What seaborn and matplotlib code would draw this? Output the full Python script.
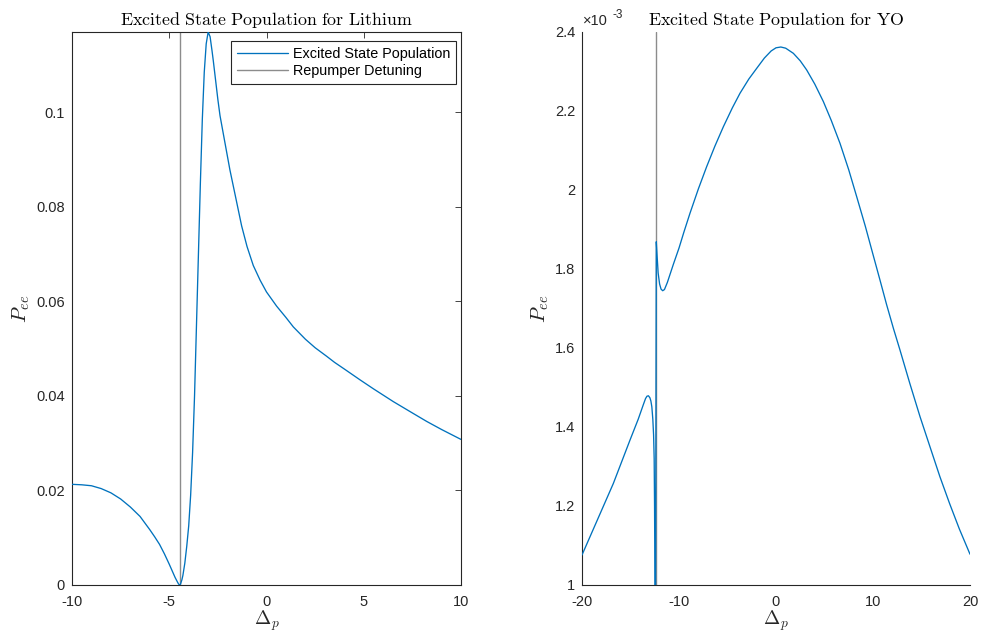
import numpy as np
import pandas as pd
import matplotlib
matplotlib.use("Agg")
import matplotlib.pyplot as plt
from matplotlib.ticker import FuncFormatter, FixedLocator
import seaborn as sns

# ---------------- data ----------------
# Lithium panel
li_detuning = [-10, -9.5, -9, -8.5, -8, -7.5, -7, -6.5, -6, -5.75, -5.5, -5.25, -5,
               -4.85, -4.7, -4.6, -4.52, -4.47, -4.42, -4.35, -4.3, -4.2, -4.1, -4.0,
               -3.9, -3.8, -3.7, -3.6, -3.5, -3.4, -3.3, -3.2, -3.1, -3.0, -2.9, -2.8,
               -2.735, -2.6, -2.5, -2.39, -2.2, -2.0, -1.88, -1.6, -1.28, -1.0, -0.68,
               -0.33, 0.0, 0.52, 1.0, 1.38, 2.0, 2.5, 3.09, 3.5, 4.0, 4.81, 5.5, 6.52,
               7.5, 8.24, 9.0, 10]
li_population = [0.0213, 0.0212, 0.0210, 0.0204, 0.0195, 0.0182, 0.0165, 0.0145,
                 0.0117, 0.0102, 0.0086, 0.0066, 0.0044, 0.0030, 0.0016, 0.0008,
                 0.0002, 0.0000, 0.0002, 0.0011, 0.0020, 0.0046, 0.0082, 0.0125,
                 0.0190, 0.0280, 0.0400, 0.0550, 0.0700, 0.0850, 0.0985, 0.1085,
                 0.1145, 0.1170, 0.1160, 0.1130, 0.1109, 0.1062, 0.1027, 0.0993,
                 0.0950, 0.0905, 0.0878, 0.0823, 0.0760, 0.0716, 0.0676, 0.0645,
                 0.0620, 0.0590, 0.0566, 0.0546, 0.0520, 0.0502, 0.0484, 0.0471,
                 0.0457, 0.0434, 0.0415, 0.0388, 0.0364, 0.0346, 0.0329, 0.0308]
li_repumper = -4.45

# YO panel
yo_detuning = [-20, -18.5, -16.77, -15.05, -14.2, -13.7, -13.45, -13.3, -13.15, -13.0,
               -12.9, -12.8, -12.7, -12.62, -12.56, -12.52, -12.48, -12.45, -12.34,
               -12.25, -12.15, -12.0, -11.85, -11.68, -11.5, -11.2, -10.58, -10.0,
               -9.5, -8.87, -8.0, -7.15, -6.3, -5.43, -4.5, -3.71, -2.8, -1.99, -1.2,
               -0.5, 0.0, 0.5, 1.0, 1.79, 2.5, 3.16, 4.0, 4.88, 5.7, 6.6, 7.5, 8.32,
               9.2, 10.03, 10.72, 11.4, 12.1, 12.78, 13.8, 14.85, 15.9, 16.9, 17.9,
               18.9, 20]
yo_population = [1.076e-3, 1.160e-3, 1.257e-3, 1.367e-3, 1.420e-3, 1.455e-3, 1.472e-3,
                 1.478e-3, 1.479e-3, 1.474e-3, 1.466e-3, 1.451e-3, 1.420e-3, 1.380e-3,
                 1.320e-3, 1.200e-3, 1.000e-3, 0.600e-3, 1.869e-3, 1.830e-3, 1.790e-3,
                 1.762e-3, 1.749e-3, 1.745e-3, 1.748e-3, 1.766e-3, 1.812e-3, 1.853e-3,
                 1.893e-3, 1.941e-3, 2.003e-3, 2.059e-3, 2.111e-3, 2.160e-3, 2.208e-3,
                 2.245e-3, 2.281e-3, 2.308e-3, 2.334e-3, 2.352e-3, 2.360e-3, 2.362e-3,
                 2.359e-3, 2.346e-3, 2.327e-3, 2.304e-3, 2.268e-3, 2.224e-3, 2.176e-3,
                 2.118e-3, 2.051e-3, 1.983e-3, 1.909e-3, 1.834e-3, 1.772e-3, 1.710e-3,
                 1.650e-3, 1.595e-3, 1.510e-3, 1.426e-3, 1.348e-3, 1.274e-3, 1.206e-3,
                 1.142e-3, 1.078e-3]
yo_repumper = -12.4

li_xticks = [-10, -5, 0, 5, 10]
li_yticks = [0, 0.02, 0.04, 0.06, 0.08, 0.1]
yo_xticks = [-20, -10, 0, 10, 20]
yo_yticks = [1.0e-3, 1.2e-3, 1.4e-3, 1.6e-3, 1.8e-3, 2.0e-3, 2.2e-3, 2.4e-3]

titles = ["Excited State Population for Lithium", "Excited State Population for YO"]
legend_labels = ["Excited State Population", "Repumper Detuning"]

# ---------------- style ----------------
sns.set_style("white")
plt.rcParams["font.family"] = ["Liberation Sans", "DejaVu Sans"]
plt.rcParams["mathtext.fontset"] = "cm"
plt.rcParams["axes.unicode_minus"] = False

BLUE = "#0072BD"
GRAY = "#8c8c8c"
AXC = "#262626"

fig = plt.figure(figsize=(9.82, 6.35), dpi=100)
ax1 = fig.add_axes([72 / 982, 50 / 635, 389 / 982, 553 / 635])
ax2 = fig.add_axes([582 / 982, 50 / 635, 388 / 982, 553 / 635])

li_df = pd.DataFrame({"detuning": li_detuning, "population": li_population})
yo_df = pd.DataFrame({"detuning": yo_detuning, "population": yo_population})

sns.lineplot(data=li_df, x="detuning", y="population", ax=ax1, color=BLUE,
             linewidth=0.95, sort=False, label=legend_labels[0], zorder=3)
ax1.axvline(li_repumper, color=GRAY, linewidth=1.0, label=legend_labels[1], zorder=2)

sns.lineplot(data=yo_df, x="detuning", y="population", ax=ax2, color=BLUE,
             linewidth=0.95, sort=False, legend=False, zorder=3)
ax2.axvline(yo_repumper, color=GRAY, linewidth=1.0, zorder=2)

def style_axes(ax, box):
    ax.tick_params(direction="in", length=4, width=0.6, colors=AXC,
                   labelcolor=AXC, labelsize=10.5, top=box, right=box)
    ax.tick_params(axis="x", pad=7)
    ax.tick_params(axis="y", pad=5)
    for s in ["left", "bottom"]:
        ax.spines[s].set_color(AXC)
        ax.spines[s].set_linewidth(0.8)
    for s in ["top", "right"]:
        ax.spines[s].set_visible(box)
        ax.spines[s].set_color(AXC)
        ax.spines[s].set_linewidth(0.8)
    ax.set_xlabel(r"$\Delta_p$", fontsize=14, color=AXC, labelpad=0)
    ax.set_ylabel(r"$P_{ee}$", fontsize=15, color=AXC, labelpad=3)

ax1.set_xlim(-10, 10)
ax1.set_ylim(0, max(li_population))
ax1.xaxis.set_major_locator(FixedLocator(li_xticks))
ax1.yaxis.set_major_locator(FixedLocator(li_yticks))
ax1.yaxis.set_major_formatter(FuncFormatter(lambda v, p: "%g" % round(v, 6)))
ax1.xaxis.set_major_formatter(FuncFormatter(lambda v, p: "%g" % v))
style_axes(ax1, True)
ax1.set_title(r"$\mathrm{" + titles[0].replace(" ", r"\ ") + "}$", fontsize=12.9,
              color="black", pad=5)

ax2.set_xlim(-20, 20)
ax2.set_ylim(1.0e-3, 2.4e-3)
ax2.xaxis.set_major_locator(FixedLocator(yo_xticks))
ax2.yaxis.set_major_locator(FixedLocator(yo_yticks))
ax2.yaxis.set_major_formatter(FuncFormatter(lambda v, p: "%g" % round(v * 1e3, 6)))
ax2.xaxis.set_major_formatter(FuncFormatter(lambda v, p: "%g" % v))
style_axes(ax2, False)
ax2.set_title(r"$\mathrm{" + titles[1].replace(" ", r"\ ") + "}$", fontsize=12.9,
              color="black", pad=5)
ax2.annotate("×10", xy=(0.0, 1.0), xycoords="axes fraction", xytext=(1, 3),
             textcoords="offset points", fontsize=10.5, color=AXC,
             ha="left", va="bottom")
ax2.annotate("-3", xy=(0.0, 1.0), xycoords="axes fraction", xytext=(22, 8),
             textcoords="offset points", fontsize=8.5, color=AXC,
             ha="left", va="bottom")

leg = ax1.legend(loc="upper right", bbox_to_anchor=((456 - 72) / 389, (585 - 41) / 553),
                 borderaxespad=0, fontsize=10.4, frameon=True, fancybox=False,
                 framealpha=1, edgecolor=AXC, handlelength=3.5, handletextpad=0.35,
                 borderpad=0.4, labelspacing=0.25)
leg.get_frame().set_linewidth(0.8)
for t in leg.get_texts():
    t.set_color("black")

fig.savefig("out.png", dpi=100)
